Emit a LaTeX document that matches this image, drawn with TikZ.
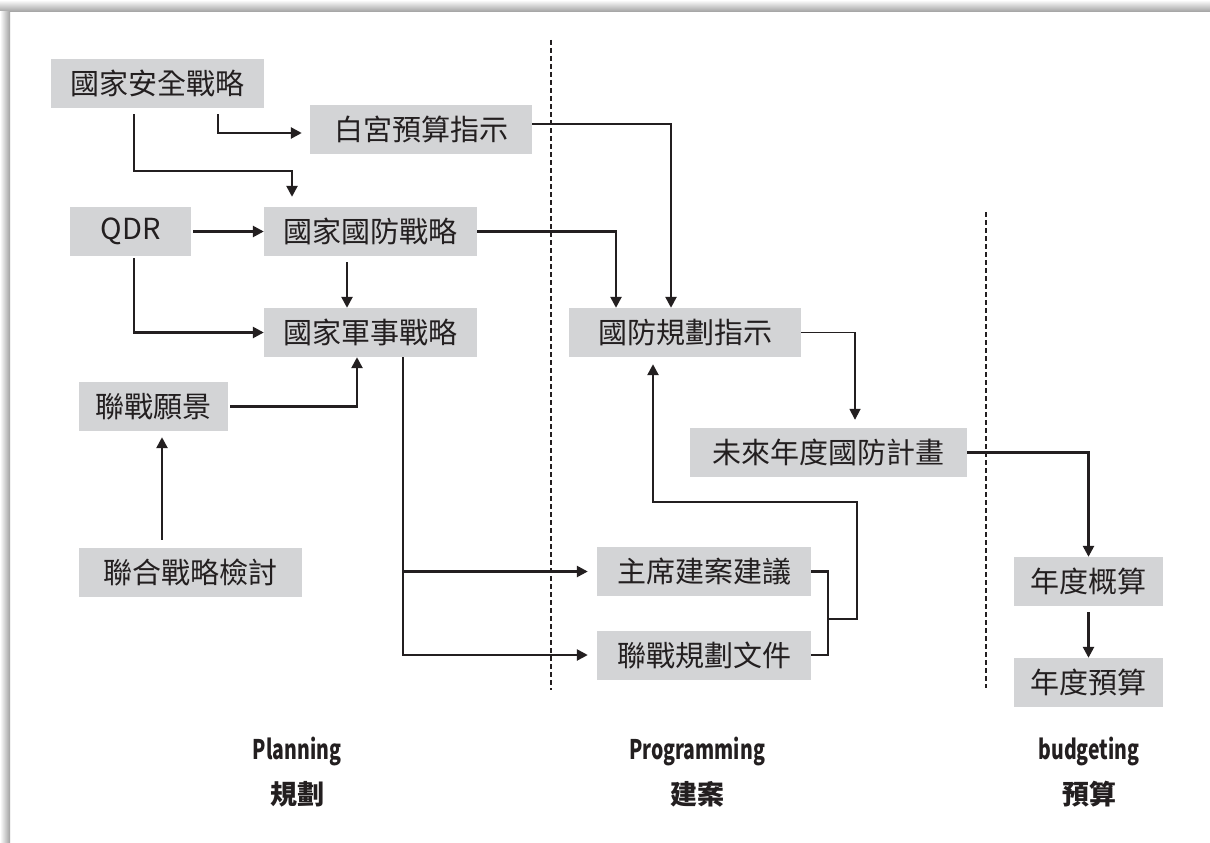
\documentclass[tikz,border=0pt]{standalone}
\usepackage{fontspec}
\usepackage{tikz}
\usetikzlibrary{arrows.meta}
\newfontfamily\boxfont{Noto Sans CJK TC}
\newfontfamily\phasefont[FakeStretch=0.72]{Noto Sans CJK TC}
\newfontfamily\phasecjk{Noto Sans CJK TC}
\definecolor{boxgray}{RGB}{211,212,214}
\definecolor{ink}{RGB}{35,31,32}

\begin{document}
\begin{tikzpicture}[x=1pt,y=-1pt,
        box/.style={fill=boxgray,text=ink,inner sep=0pt,minimum height=49pt,
            font=\boxfont\fontsize{29pt}{34pt}\selectfont},
        conn/.style={draw=ink,line width=2.5pt,-{Triangle[length=11pt,width=11pt]}},
        link/.style={draw=ink,line width=2.5pt},
        divider/.style={draw=ink,line width=2.2pt,dash pattern=on 5pt off 3pt},
        phase/.style={text=ink,align=center,
            font=\phasefont\bfseries\fontsize{27pt}{45pt}\selectfont}]
                % page and shadowed frame
                \useasboundingbox (0,0) rectangle (1210,843);
                \fill[white] (0,0) rectangle (1210,843);
                \shade[top color=white,bottom color=gray!75]
                    (0,0) rectangle (1210,12);
                \shade[left color=white,right color=gray!75]
                    (0,12) rectangle (10,843);

                % phase dividers
                \draw[divider] (551,40) -- (551,690);
                \draw[divider] (986,212) -- (986,688);

                % planning
                \node[box,minimum width=213pt] (nss) at (157.5,83.5) {國家安全戰略};
                \node[box,minimum width=222pt] (wh) at (421,129.5) {白宮預算指示};
                \node[box,minimum width=121pt] (qdr) at (130.5,231.5) {QDR};
                \node[box,minimum width=213pt] (nds) at (370.5,231.5) {國家國防戰略};
                \node[box,minimum width=213pt] (nms) at (370.5,332.5) {國家軍事戰略};
                \node[box,minimum width=149pt] (jv) at (153.5,406.5) {聯戰願景};
                \node[box,minimum width=223pt] (jsr) at (190.5,572.5) {聯合戰略檢討};

                % programming
                \node[box,minimum width=232pt] (dpg) at (685,332.5) {國防規劃指示};
                \node[box,minimum width=277pt] (fydp) at (828.5,452.5) {未來年度國防計畫};
                \node[box,minimum width=214pt] (cpr) at (704,571.5) {主席建案建議};
                \node[box,minimum width=214pt] (jpd) at (704,655) {聯戰規劃文件};

                % budgeting
                \node[box,minimum width=149pt] (est) at (1088.5,581.5) {年度概算};
                \node[box,minimum width=149pt] (bud) at (1088.5,682.5) {年度預算};

                % phase names
                \node[phase] (plan) at (297,772.5)
                    {Planning\\\phasecjk\fontsize{27pt}{45pt}\selectfont 規劃};
                \node[phase] (prog) at (697,772.5)
                    {Programming\\\phasecjk\fontsize{27pt}{45pt}\selectfont 建案};
                \node[phase] (budg) at (1089,772.5)
                    {budgeting\\\phasecjk\fontsize{27pt}{45pt}\selectfont 預算};

                % connectors
                \draw[conn,shorten <=6pt,shorten >=8pt]
                    (nss.south -| 218,0) |- (wh.west |- 0,133);
                \draw[conn,shorten <=6pt,shorten >=10pt]
                    (nss.south -| 134,0) -- (134,171) -| (nds.north -| 292,0);
                \draw[conn,shorten <=2pt] (qdr.east) -- (nds.west);
                \draw[conn,shorten <=2pt]
                    (qdr.south -| 134,0) |- (nms.west);
                \draw[conn,shorten <=6pt]
                    (nds.south -| 347,0) -- (nms.north -| 347,0);
                \draw[conn,shorten <=2pt]
                    (jv.east) -| (nms.south -| 357,0);
                \draw[conn,shorten <=8pt,shorten >=6pt]
                    (jsr.north -| 162,0) -- (jv.south -| 162,0);
                \draw[conn] (nds.east) -| (dpg.north -| 616,0);
                \draw[conn] (wh.east |- 0,124) -| (dpg.north -| 671,0);
                \draw[conn,shorten >=9pt]
                    (nms.south -| 403,0) |- (cpr.west);
                \draw[conn,shorten >=9pt]
                    (nms.south -| 403,0) |- (jpd.west);
                \coordinate (brk) at (828,619);
                \draw[link] (cpr.east) -| (brk) |- (jpd.east);
                \draw[conn,shorten >=7pt]
                    (brk) -| (857,502) -| (dpg.south -| 653,0);
                \draw[conn,line width=1.7pt,shorten >=8pt]
                    (dpg.east) -| (fydp.north -| 855,0);
                \draw[conn] (fydp.east) -| (est.north);
                \draw[conn,shorten <=6pt] (est.south) -- (bud.north);
            \end{tikzpicture}
\end{document}
